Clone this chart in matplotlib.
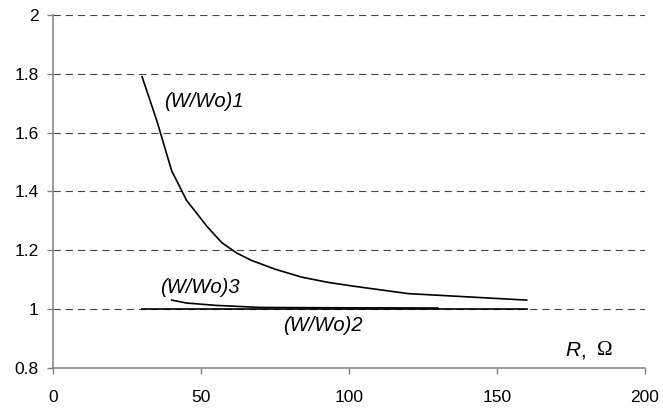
import matplotlib
matplotlib.use('Agg')
import matplotlib.pyplot as plt

# data
R1 = [30, 35, 40, 45, 52, 57, 62, 67, 75, 84, 93, 101, 120, 160]
W1 = [1.79, 1.64, 1.47, 1.37, 1.28, 1.225, 1.19, 1.165, 1.135, 1.108, 1.09, 1.078, 1.052, 1.03]

R2 = [30, 160]
W2 = [1.0, 1.0]

R3 = [40, 45, 55, 70, 90, 130]
W3 = [1.03, 1.02, 1.012, 1.005, 1.004, 1.003]

xticks = [0, 50, 100, 150, 200]
yticks = [0.8, 1.0, 1.2, 1.4, 1.6, 1.8, 2.0]
ytick_labels = ['0.8', '1', '1.2', '1.4', '1.6', '1.8', '2']

plt.rcParams['font.family'] = ['Liberation Sans', 'DejaVu Sans']

fig = plt.figure(figsize=(6.63, 4.09), dpi=100)
ax = fig.add_axes([0.0804, 0.101, 0.8925, 0.8623])

# dashed grid lines
for y in yticks[1:]:
    ax.axhline(y, color='#444444', linewidth=0.8, dashes=(6.5, 4.5), zorder=1)

ax.plot(R1, W1, color='black', linewidth=1.2, zorder=3)
ax.plot(R2, W2, color='black', linewidth=1.2, zorder=3)
ax.plot(R3, W3, color='black', linewidth=1.2, zorder=3)

ax.set_xlim(0, 200)
ax.set_ylim(0.8, 2.0)
ax.set_xticks(xticks)
ax.set_yticks(yticks)
ax.set_yticklabels(ytick_labels)
ax.tick_params(direction='out', length=4, width=1, color='#808080', labelsize=12.5)
ax.tick_params(axis='x', pad=12)
ax.tick_params(axis='y', pad=6.5)

for side in ['top', 'right']:
    ax.spines[side].set_visible(False)
for side in ['left', 'bottom']:
    ax.spines[side].set_color('#808080')
    ax.spines[side].set_linewidth(1.1)

lab_fs = 14.5
ax.text(37.6, 1.706, '(W/Wo)1', fontsize=lab_fs, style='italic', va='center')
ax.text(36, 1.072, '(W/Wo)3', fontsize=lab_fs, style='italic', va='center')
ax.text(77.5, 0.942, '(W/Wo)2', fontsize=lab_fs, style='italic', va='center')
ax.text(173, 0.857, 'R', fontsize=15, style='italic', va='center')
ax.text(178.2, 0.857, ',', fontsize=15, va='center')
ax.text(183.8, 0.857, 'Ω', fontsize=15, family=['Liberation Serif', 'DejaVu Serif'], va='center')

plt.savefig('out.png', dpi=100)
